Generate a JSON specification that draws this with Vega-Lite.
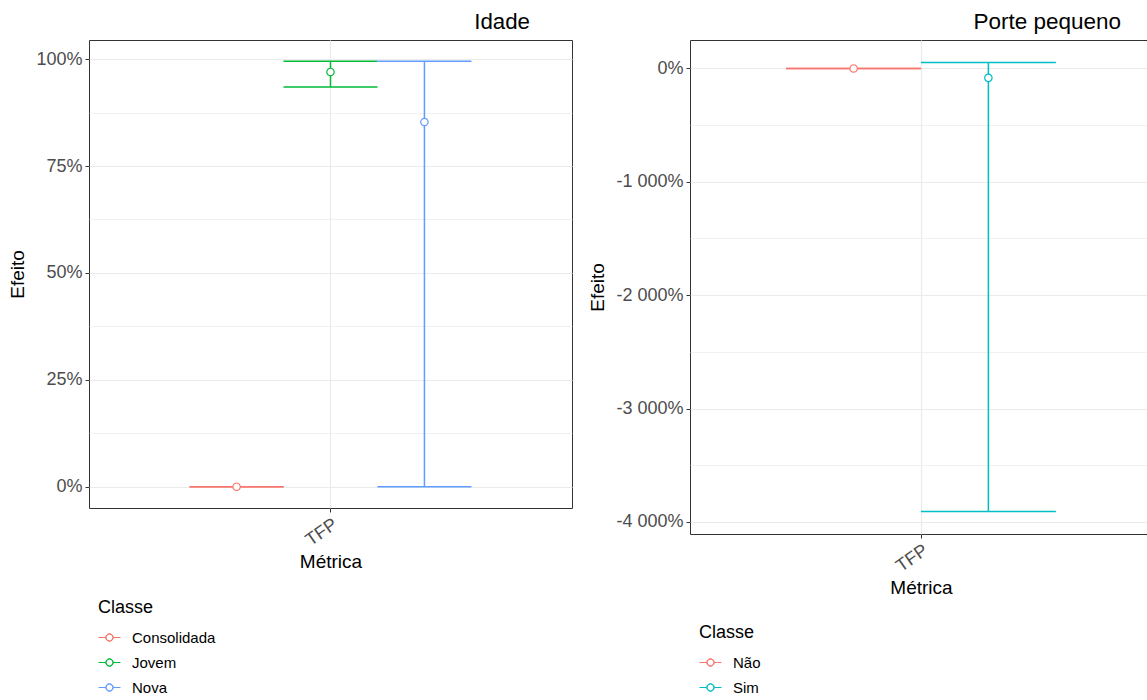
{
  "$schema": "https://vega.github.io/schema/vega-lite/v6.json",
  "background": "white",
  "padding": {"left": 8, "top": 10, "right": 0, "bottom": 0},
  "spacing": 15,
  "resolve": {"scale": {"color": "independent", "xOffset": "independent"}, "legend": {"color": "independent"}},
  "config": {
    "font": "Liberation Sans",
    "view": {"stroke": "#333333", "strokeWidth": 1},
    "axis": {
      "domain": false,
      "gridColor": "#ebebeb",
      "labelColor": "#4d4d4d",
      "labelFontSize": 18,
      "titleFontSize": 19,
      "titleFontWeight": "normal",
      "titleColor": "black",
      "tickColor": "#333333",
      "tickSize": 4,
      "labelPadding": 3
    },
    "legend": {
      "titleFontSize": 18,
      "titleFontWeight": "normal",
      "titleColor": "black",
      "labelFontSize": 15,
      "labelColor": "black",
      "symbolSize": 484,
      "symbolStrokeWidth": 1,
      "symbolOpacity": 1,
      "rowPadding": 5,
      "titlePadding": 9,
      "labelOffset": 11
    }
  },
  "hconcat": [
    {
      "width": 483,
      "height": 468,
      "title": {"text": "Idade", "anchor": "end", "dx": -42, "fontSize": 22.3, "fontWeight": "normal", "color": "black", "offset": 7},
      "data": {"values": [
        {"Metrica": "TFP", "Classe": "Consolidada", "est": 0, "lo": 0, "hi": 0},
        {"Metrica": "TFP", "Classe": "Jovem", "est": 0.970, "lo": 0.935, "hi": 0.995},
        {"Metrica": "TFP", "Classe": "Nova", "est": 0.853, "lo": 0, "hi": 0.995}
      ]},
      "encoding": {
        "x": {
          "field": "Metrica", "type": "nominal", "title": "Métrica",
          "scale": {"paddingInner": 0, "paddingOuter": 0.357},
          "axis": {"labelAngle": -35, "labelAlign": "right", "labelBaseline": "top", "grid": true, "gridWidth": 1.2, "titlePadding": 3, "labelPadding": 3}
        },
        "xOffset": {"field": "Classe", "type": "nominal", "scale": {"domain": ["Consolidada", "Jovem", "Nova"], "paddingInner": 0, "paddingOuter": 0}}
      },
      "layer": [
        {
          "mark": {"type": "rule", "strokeWidth": 1.5},
          "encoding": {
            "color": {
              "field": "Classe", "type": "nominal",
              "scale": {"domain": ["Consolidada", "Jovem", "Nova"], "range": ["#F8766D", "#00BA38", "#619CFF"]},
              "legend": {
                "orient": "none", "legendX": 9, "legendY": 559, "title": "Classe",
                "symbolType": "M-1,0H-0.34M0.34,0H1M0.34,0A0.34,0.34,0,1,1,-0.34,0A0.34,0.34,0,1,1,0.34,0ZM0.31,0A0.31,0.31,0,1,0,-0.31,0A0.31,0.31,0,1,0,0.31,0Z"
              }
            },
            "y": {
              "field": "lo", "type": "quantitative", "title": "Efeito",
              "scale": {"domain": [-0.04975, 1.04475], "nice": false, "zero": false},
              "axis": {
                "values": [0, 0.125, 0.25, 0.375, 0.5, 0.625, 0.75, 0.875, 1],
                "format": ".0%",
                "labelExpr": "datum.value % 0.25 == 0 ? datum.label : ''",
                "tickOpacity": {"condition": {"test": "datum.value % 0.25 != 0", "value": 0}, "value": 1},
                "gridWidth": {"condition": {"test": "datum.value % 0.25 != 0", "value": 0.7}, "value": 1.2},
                "titlePadding": 8
              }
            },
            "y2": {"field": "hi"}
          }
        },
        {
          "mark": {"type": "tick", "orient": "horizontal", "size": 94, "thickness": 1.5, "opacity": 1},
          "encoding": {
            "color": {"field": "Classe", "type": "nominal", "legend": null},
            "y": {"field": "lo", "type": "quantitative", "title": "Efeito"}
          }
        },
        {
          "mark": {"type": "tick", "orient": "horizontal", "size": 94, "thickness": 1.5, "opacity": 1},
          "encoding": {
            "color": {"field": "Classe", "type": "nominal", "legend": null},
            "y": {"field": "hi", "type": "quantitative", "title": "Efeito"}
          }
        },
        {
          "mark": {"type": "point", "shape": "circle", "filled": false, "fill": "white", "fillOpacity": 1, "size": 55, "strokeWidth": 1.2, "opacity": 1},
          "encoding": {
            "color": {"field": "Classe", "type": "nominal", "legend": null},
            "y": {"field": "est", "type": "quantitative", "title": "Efeito"}
          }
        }
      ]
    },
    {
      "width": 462,
      "height": 494,
      "title": {"text": "Porte pequeno", "anchor": "end", "dx": -31, "fontSize": 22.5, "fontWeight": "normal", "color": "black", "offset": 7},
      "data": {"values": [
        {"Metrica": "TFP", "Classe": "Não", "est": 0, "lo": 0, "hi": 0},
        {"Metrica": "TFP", "Classe": "Sim", "est": -0.83, "lo": -39.09, "hi": 0.53}
      ]},
      "encoding": {
        "x": {
          "field": "Metrica", "type": "nominal", "title": "Métrica",
          "scale": {"paddingInner": 0, "paddingOuter": 0.357},
          "axis": {"labelAngle": -35, "labelAlign": "right", "labelBaseline": "top", "grid": true, "gridWidth": 1.2, "titlePadding": 3, "labelPadding": 3}
        },
        "xOffset": {"field": "Classe", "type": "nominal", "scale": {"domain": ["Não", "Sim"], "paddingInner": 0, "paddingOuter": 0}}
      },
      "layer": [
        {
          "mark": {"type": "rule", "strokeWidth": 1.5},
          "encoding": {
            "color": {
              "field": "Classe", "type": "nominal",
              "scale": {"domain": ["Não", "Sim"], "range": ["#F8766D", "#00BFC4"]},
              "legend": {
                "orient": "none", "legendX": 9, "legendY": 584, "title": "Classe",
                "symbolType": "M-1,0H-0.34M0.34,0H1M0.34,0A0.34,0.34,0,1,1,-0.34,0A0.34,0.34,0,1,1,0.34,0ZM0.31,0A0.31,0.31,0,1,0,-0.31,0A0.31,0.31,0,1,0,0.31,0Z"
              }
            },
            "y": {
              "field": "lo", "type": "quantitative", "title": "Efeito",
              "scale": {"domain": [-41.071, 2.511], "nice": false, "zero": false},
              "axis": {
                "values": [-40, -35, -30, -25, -20, -15, -10, -5, 0],
                "format": ",.0%",
                "labelExpr": "datum.value % 10 == 0 ? replace(replace(datum.label, ',', ' '), '−', '-') : ''",
                "tickOpacity": {"condition": {"test": "datum.value % 10 != 0", "value": 0}, "value": 1},
                "gridWidth": {"condition": {"test": "datum.value % 10 != 0", "value": 0.7}, "value": 1.2},
                "titlePadding": 8
              }
            },
            "y2": {"field": "hi"}
          }
        },
        {
          "mark": {"type": "tick", "orient": "horizontal", "size": 135, "thickness": 1.5, "opacity": 1},
          "encoding": {
            "color": {"field": "Classe", "type": "nominal", "legend": null},
            "y": {"field": "lo", "type": "quantitative", "title": "Efeito"}
          }
        },
        {
          "mark": {"type": "tick", "orient": "horizontal", "size": 135, "thickness": 1.5, "opacity": 1},
          "encoding": {
            "color": {"field": "Classe", "type": "nominal", "legend": null},
            "y": {"field": "hi", "type": "quantitative", "title": "Efeito"}
          }
        },
        {
          "mark": {"type": "point", "shape": "circle", "filled": false, "fill": "white", "fillOpacity": 1, "size": 55, "strokeWidth": 1.2, "opacity": 1},
          "encoding": {
            "color": {"field": "Classe", "type": "nominal", "legend": null},
            "y": {"field": "est", "type": "quantitative", "title": "Efeito"}
          }
        }
      ]
    }
  ]
}
